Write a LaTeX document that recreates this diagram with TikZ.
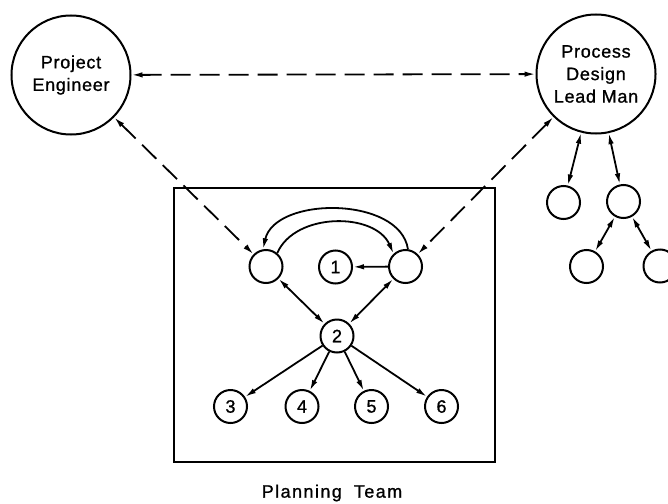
\documentclass[tikz,border=0pt]{standalone}
\usepackage{fontspec}
\setmainfont[FakeBold=1]{Liberation Sans}
\newfontfamily\spaced[LetterSpace=8,FakeBold=1]{Liberation Sans}
\newfontfamily\lettering[LetterSpace=4,FakeBold=1]{Liberation Sans}
\usetikzlibrary{arrows.meta}
\begin{document}
\begin{tikzpicture}[x=1pt,y=-1pt,
  big/.style={circle,draw,line width=2pt,minimum size=119pt,inner sep=0pt,font=\fontsize{18}{22.5}\selectfont\lettering,align=center},
  small/.style={circle,draw,line width=2pt,minimum size=33pt,inner sep=0pt,font=\fontsize{18}{20}\selectfont\lettering},
  conn/.style={line width=1.8pt},
  tip/.style={-{Latex[length=11pt,width=5.5pt]}},
  both/.style={{Latex[length=11pt,width=5.5pt]}-{Latex[length=11pt,width=5.5pt]}},
  dashline/.style={dash pattern=on 20pt off 9pt}]
\useasboundingbox (0,0) rectangle (668,503);
\node[draw,line width=2.2pt,minimum width=321pt,minimum height=274pt,inner sep=0pt] (box) at (334.5,324.7) {};
\node[font=\fontsize{18}{20}\selectfont] (pt) at (332,493) {\spaced Planning\hspace{12pt}Team};
\node[big] (PE) at (71,75) {Project\\Engineer};
\node[big] (PD) at (596,74) {Process\\Design\\Lead Man};
\node[small] (sa) at (563.5,202.5) {};
\node[small] (sb) at (623.5,201.5) {};
\node[small] (sc) at (586.5,266.5) {};
\node[small] (sd) at (660,266) {};
\node[small] (L) at (266,266.5) {};
\node[small] (R) at (405.5,266.5) {};
\node[small] (n1) at (335.5,267) {1};
\node[small] (n2) at (337,336) {2};
\node[small] (n3) at (230.5,406.5) {3};
\node[small] (n4) at (302,406.5) {4};
\node[small] (n5) at (371.5,406.5) {5};
\node[small] (n6) at (441.5,406.5) {6};
\draw[conn,dashline,both] (PE) -- (PD);
\draw[conn,dashline,both] (PE) -- (L);
\draw[conn,dashline,both] (PD) -- (R);
\draw[conn,both] (PD) -- (sa);
\draw[conn,both] (PD) -- (sb);
\draw[conn,both] (sb) -- (sc);
\draw[conn,both] (sb) -- (sd);
\draw[conn,both] (L) -- (n2);
\draw[conn,both] (R) -- (n2);
\draw[conn,tip] (R) -- (n1);
\draw[conn,tip] (n2) -- (n3);
\draw[conn,tip] (n2) -- (n4);
\draw[conn,tip] (n2) -- (n5);
\draw[conn,tip] (n2) -- (n6);
\draw[conn,tip] (R.82) .. controls (400,196) and (275,196) .. (L.100);
\draw[conn,tip] (L.50) .. controls (295,212) and (375,212) .. (R.133);
\end{tikzpicture}
\end{document}
